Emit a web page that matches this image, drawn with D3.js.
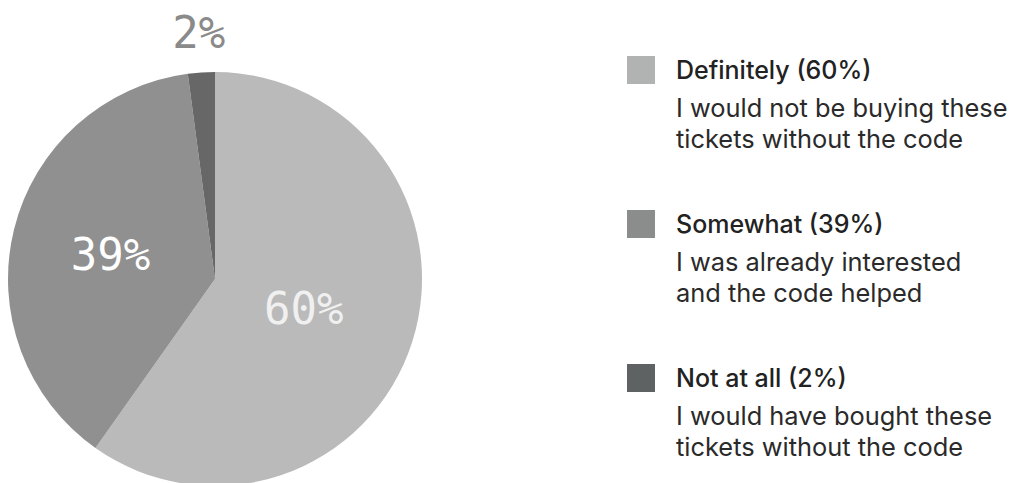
<!DOCTYPE html>
<html>
<head>
<meta charset="utf-8">
<script src="https://cdn.jsdelivr.net/npm/d3@7"></script>
<style>
  body { margin: 0; background: #fff; }
</style>
</head>
<body>
<div id="chart-area"></div>
<script>
// DATA
var categories = ["Definitely", "Somewhat", "Not at all"];
var shares = [59.8, 38.1, 2.1];          // slice sizes
var percentLabels = [60, 39, 2];         // printed percentages
var descriptions = [
    ["I would not be buying these", "tickets without the code"],
    ["I was already interested", "and the code helped"],
    ["I would have bought these", "tickets without the code"]
];

var width = 1013;
var height = 483;

var sliceColors = ["#bababa", "#909090", "#676767"];
var keyColors = ["#b0b3b2", "#8b8d8d", "#5f6262"];

var svg = d3.select("#chart-area")
    .append("svg")
    .attr("width", width)
    .attr("height", height);

// PIE
var radius = 207;
var g = svg.append("g")
    .attr("transform", "translate(215,279)");

var pie = d3.pie().sort(null).value((d) => d);
var arc = d3.arc().innerRadius(0).outerRadius(radius);

var arcs = pie(shares);

g.selectAll("path")
    .data(arcs)
    .enter()
    .append("path")
    .attr("d", arc)
    .attr("fill", (d, i) => sliceColors[i]);

// slice labels (last one sits outside the pie)
var labelRadius = [0.45, 0.52, 1.2];

g.selectAll("text.slice-label")
    .data(arcs)
    .enter()
    .append("text")
    .attr("class", "slice-label")
    .attr("transform", (d, i) => {
        var r = radius * labelRadius[i];
        var c = d3.arc().innerRadius(r).outerRadius(r).centroid(d);
        return "translate(" + c[0] + "," + c[1] + ")";
    })
    .attr("dy", "0.38em")
    .attr("text-anchor", "middle")
    .attr("font-family", "DejaVu Sans Mono")
    .attr("font-size", "44px")
    .attr("fill", (d, i) => i == 2 ? "#8a8a8a" : (i == 0 ? "#f0f0f0" : "#ffffff"))
    .text((d, i) => percentLabels[i] + "%");

// LEGEND
var legend = svg.append("g")
    .attr("transform", "translate(627,56)");

var items = legend.selectAll("g")
    .data(categories)
    .enter()
    .append("g")
    .attr("transform", (d, i) => "translate(0," + i * 154 + ")");

items.append("rect")
    .attr("width", 28)
    .attr("height", 28)
    .attr("fill", (d, i) => keyColors[i]);

items.append("text")
    .attr("x", 49)
    .attr("y", 23)
    .attr("font-family", "Inter")
    .attr("font-weight", 500)
    .attr("font-size", "25px")
    .attr("fill", "#222")
    .text((d, i) => d + " (" + percentLabels[i] + "%)");

items.each(function (d, i) {
    d3.select(this).selectAll("text.desc")
        .data(descriptions[i])
        .enter()
        .append("text")
        .attr("class", "desc")
        .attr("x", 49)
        .attr("y", (t, j) => 61 + j * 31)
        .attr("font-family", "Inter")
        .attr("font-size", "25.4px")
        .attr("fill", "#2a2a2a")
        .text((t) => t);
});
</script>
</body>
</html>
